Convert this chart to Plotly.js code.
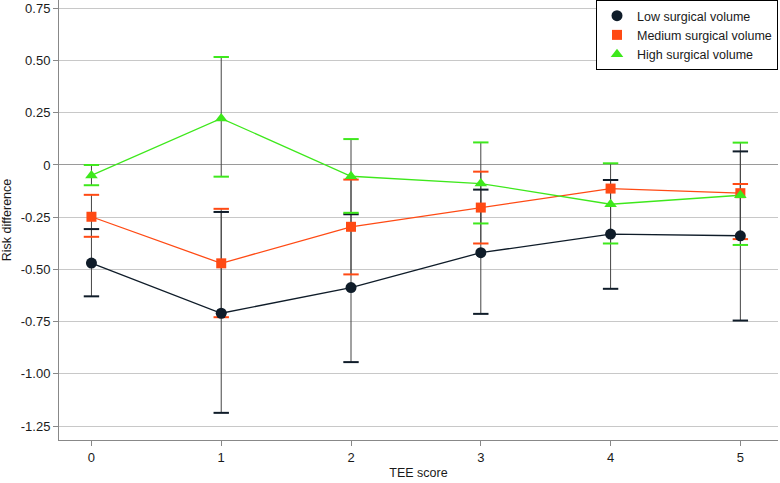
<!DOCTYPE html>
<html>
<head>
<meta charset="utf-8">
<script src="https://cdn.plot.ly/plotly-3.0.1.min.js"></script>
<style>html,body{margin:0;padding:0;background:#fff;}#chart{width:780px;height:483px;}</style>
</head>
<body>
<div id="chart"></div>
<script>
// TEE score categories
const teeScore = [0, 1, 2, 3, 4, 5];

// Low surgical volume
const lowRD = [-0.47, -0.71, -0.587, -0.42, -0.331, -0.339];
const lowLower = [-0.629, -1.187, -0.944, -0.713, -0.593, -0.745];
const lowUpper = [-0.307, -0.225, -0.236, -0.118, -0.072, 0.065];

// Medium surgical volume (CI at score 4 not visible in source)
const medRD = [-0.248, -0.471, -0.296, -0.204, -0.113, -0.135];
const medLower = [-0.344, -0.729, -0.524, -0.376, null, -0.355];
const medUpper = [-0.143, -0.21, -0.07, -0.032, null, -0.091];

// High surgical volume
const highRD = [-0.05, 0.223, -0.054, -0.089, -0.188, -0.145];
const highLower = [-0.097, -0.056, -0.229, -0.28, -0.376, -0.383];
const highUpper = [0, 0.517, 0.124, 0.108, 0.008, 0.107];

// Y tick labels
const yTickVals = [0.75, 0.5, 0.25, 0, -0.25, -0.5, -0.75, -1, -1.25];
const yTickText = ["0.75", "0.50", "0.25", "0", "-0.25", "-0.50", "-0.75", "-1.00", "-1.25"];

const series = [
  {name: "Low surgical volume", y: lowRD, lo: lowLower, hi: lowUpper, color: "#0f1c29", symbol: "circle", size: 11},
  {name: "Medium surgical volume", y: medRD, lo: medLower, hi: medUpper, color: "#ff4a14", symbol: "square", size: 10},
  {name: "High surgical volume", y: highRD, lo: highLower, hi: highUpper, color: "#3ee81c", symbol: "triangle-up", size: 11}
];

const traces = [];
// stems (gray error bars, no caps)
series.forEach(s => {
  traces.push({
    x: teeScore, y: s.y, type: "scatter", mode: "markers",
    marker: {size: 0.1, opacity: 0},
    showlegend: false, hoverinfo: "skip",
    error_y: {
      type: "data", symmetric: false,
      array: s.y.map((v, i) => s.hi[i] == null ? 0 : s.hi[i] - v),
      arrayminus: s.y.map((v, i) => s.lo[i] == null ? 0 : v - s.lo[i]),
      color: "#454545", thickness: 1, width: 0
    }
  });
});
// caps (colored)
series.forEach(s => {
  const cx = [], cy = [];
  teeScore.forEach((x, i) => {
    if (s.lo[i] != null) { cx.push(x); cy.push(s.lo[i]); }
    if (s.hi[i] != null) { cx.push(x); cy.push(s.hi[i]); }
  });
  traces.push({
    x: cx, y: cy, type: "scatter", mode: "markers",
    marker: {symbol: "line-ew-open", size: 11, color: s.color, line: {color: s.color, width: 2}},
    showlegend: false, hoverinfo: "skip"
  });
});
// lines
series.forEach(s => {
  traces.push({
    x: teeScore, y: s.y, type: "scatter", mode: "lines",
    line: {color: s.color, width: 1.3},
    showlegend: false
  });
});
// markers (legend)
series.forEach(s => {
  traces.push({
    x: teeScore, y: s.y, type: "scatter", mode: "markers", name: s.name,
    marker: {symbol: s.symbol, size: s.size, color: s.color}
  });
});

const layout = {
  width: 780, height: 483,
  margin: {l: 59, r: 2, t: 0, b: 43},
  paper_bgcolor: "#fff", plot_bgcolor: "#fff",
  font: {family: "Liberation Sans, Arial, sans-serif", size: 13, color: "#1a1a1a"},
  xaxis: {
    range: [-0.25, 5.29],
    tickvals: teeScore, ticktext: teeScore.map(String),
    showgrid: false, zeroline: false,
    showline: true, linecolor: "#888", linewidth: 1,
    ticks: "outside", ticklen: 5, tickcolor: "#888",
    tickfont: {size: 13},
    title: {text: "TEE score", font: {size: 12.5}, standoff: 4}
  },
  yaxis: {
    range: [-1.317, 0.79],
    tickvals: yTickVals, ticktext: yTickText,
    showgrid: true, gridcolor: "#c8c8c8", gridwidth: 1,
    zeroline: true, zerolinecolor: "#9a9a9a", zerolinewidth: 1,
    showline: true, linecolor: "#888", linewidth: 1,
    ticks: "outside", ticklen: 5, tickcolor: "#888",
    tickfont: {size: 13},
    title: {text: "Risk difference", font: {size: 12.5}, standoff: 6}
  },
  legend: {
    x: 1, xanchor: "right", y: 1, yanchor: "top",
    bgcolor: "#fff", bordercolor: "#000", borderwidth: 1,
    font: {size: 12.5}, itemwidth: 30, tracegroupgap: 0
  },
  showlegend: true
};

Plotly.newPlot("chart", traces, layout, {displayModeBar: false, staticPlot: true});
</script>
</body>
</html>
